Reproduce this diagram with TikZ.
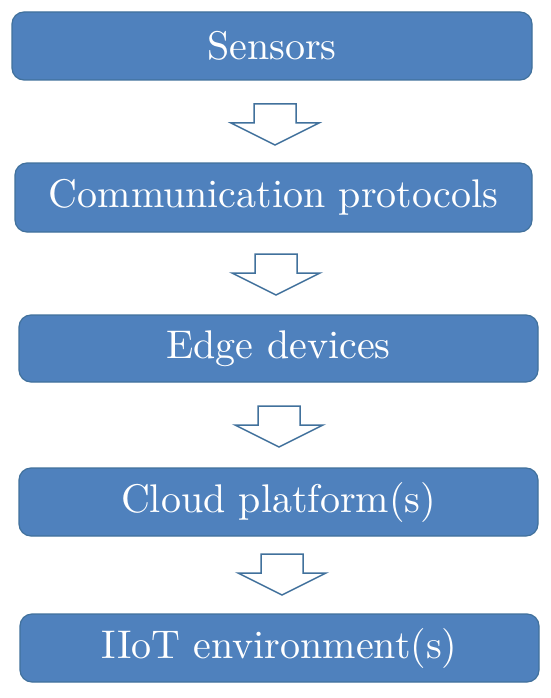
\documentclass[tikz,border=0pt]{standalone}
\usepackage{fontspec}
\setmainfont{lmroman10-regular}[Extension=.otf]
\definecolor{boxfill}{HTML}{4F81BD}
\definecolor{boxline}{HTML}{41719C}
\newcommand\hollowdown[2]{%
  \draw[flowarrow] (#1-21,#2) -- (#1+21,#2) -- (#1+21,#2+19) -- (#1+44,#2+19)
    -- (#1,#2+41) -- (#1-44,#2+19) -- (#1-21,#2+19) -- cycle;}
\begin{document}
\begin{tikzpicture}[x=1pt,y=-1pt,
  stage/.style={draw=boxline, line width=1.2pt, fill=boxfill, rounded corners=12pt,
    text=white, font=\fontsize{40}{44}\selectfont, inner sep=0pt},
  flowarrow/.style={draw=boxline, line width=1.5pt, fill=white, line join=miter}]
\useasboundingbox (0,0) rectangle (550,698);
\fill[white] (0,0) rectangle (550,698);
\node[stage, minimum width=520pt, minimum height=68pt] (s1) at (272,46) {Sensors};
\node[stage, minimum width=517pt, minimum height=69pt] (s2) at (273.5,197.5) {Communication protocols};
\node[stage, minimum width=519pt, minimum height=67pt] (s3) at (278.5,348.5) {Edge devices};
\node[stage, minimum width=519pt, minimum height=68pt] (s4) at (278.5,502) {Cloud platform(s)};
\node[stage, minimum width=519pt, minimum height=68pt] (s5) at (279.5,648) {IIoT environment(s)};
\hollowdown{275}{104}
\hollowdown{276}{254}
\hollowdown{279}{406}
\hollowdown{282}{554}
\end{tikzpicture}
\end{document}
